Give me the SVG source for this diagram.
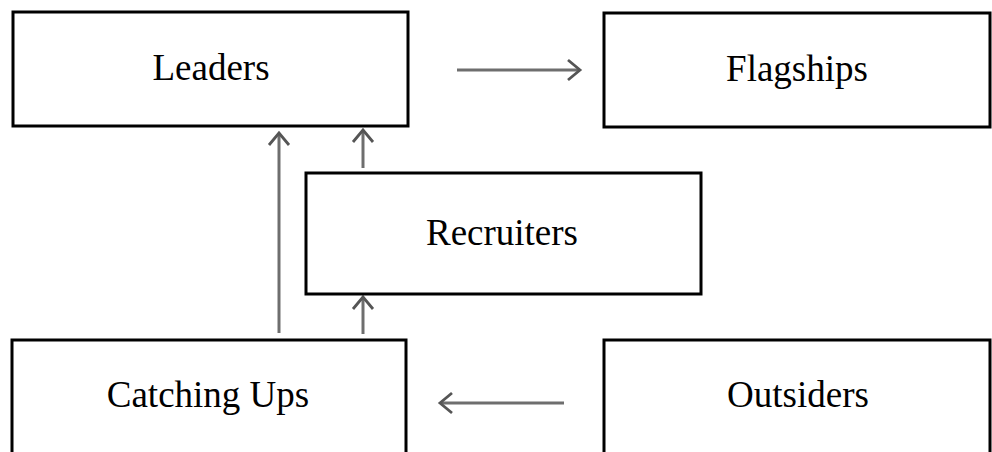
<svg xmlns="http://www.w3.org/2000/svg" width="992" height="452" viewBox="0 0 992 452">
<style>
.box{fill:#fff;stroke:#000;stroke-width:3}
.lbl{font-family:"Liberation Serif","Times New Roman",serif;font-size:37px;fill:#000;text-anchor:middle}
.con{stroke:#6e6e6e;stroke-width:3;fill:none}
</style>
<defs>
<marker id="ah" markerUnits="userSpaceOnUse" markerWidth="24" markerHeight="24" refX="16" refY="11" orient="auto" viewBox="0 0 24 22">
<path d="M4,1 L16,11 L4,21" fill="none" stroke="#555" stroke-width="2.8"/>
</marker>
</defs>
<rect width="992" height="452" fill="#fff"/>
<g id="connectors">
<line class="con" x1="457" y1="70" x2="580" y2="70" marker-end="url(#ah)"/>
<line class="con" x1="564" y1="403" x2="440" y2="403" marker-end="url(#ah)"/>
<line class="con" x1="279" y1="333" x2="279" y2="133" marker-end="url(#ah)"/>
<line class="con" x1="363" y1="168" x2="363" y2="130" marker-end="url(#ah)"/>
<line class="con" x1="363" y1="334" x2="363" y2="297" marker-end="url(#ah)"/>
</g>
<g id="leaders">
<rect class="box" x="13" y="12" width="395" height="114"/>
<text class="lbl" x="211" y="80">Leaders</text>
</g>
<g id="flagships">
<rect class="box" x="604" y="13" width="386" height="114"/>
<text class="lbl" x="797" y="81">Flagships</text>
</g>
<g id="recruiters">
<rect class="box" x="306" y="173" width="395" height="121"/>
<text class="lbl" x="502" y="245">Recruiters</text>
</g>
<g id="catching-ups">
<rect class="box" x="12" y="340" width="394" height="130"/>
<text class="lbl" x="208" y="407">Catching Ups</text>
</g>
<g id="outsiders">
<rect class="box" x="604" y="340" width="386" height="130"/>
<text class="lbl" x="798" y="407">Outsiders</text>
</g>
</svg>
